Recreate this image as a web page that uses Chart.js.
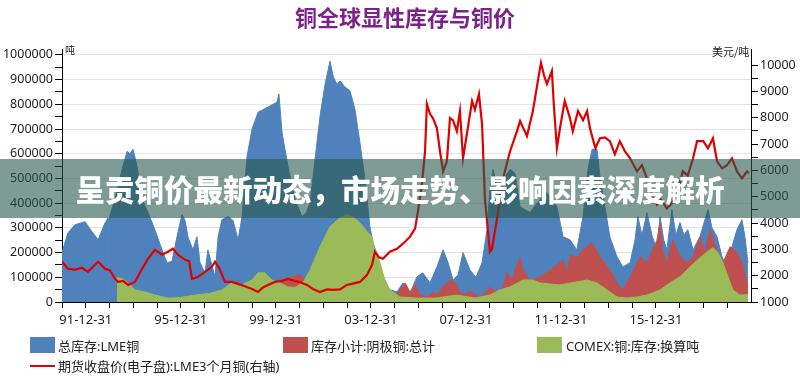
<!DOCTYPE html>
<html lang="zh-CN">
<head>
<meta charset="utf-8">
<title>铜全球显性库存与铜价</title>
<script src="https://cdn.jsdelivr.net/npm/chart.js@4.4.1/dist/chart.umd.min.js"></script>
<style>
    html, body { margin: 0; padding: 0; background: #fff; }
    #wrap { position: relative; width: 800px; height: 377px; overflow: hidden;
            font-family: 'Noto Sans', 'Noto Sans CJK SC', sans-serif; color: #222; }
    #myChart { position: absolute; left: 0; top: 0; }
    .titulo { position: absolute; left: 0; top: 0; width: 810px; line-height: 28px; text-align: center;
              font: bold 22px 'Noto Sans CJK SC', sans-serif; color: #7b2188; }
    .unidad { position: absolute; font-size: 10px; line-height: 12px; font-family: 'Noto Sans CJK SC', sans-serif; }
    .leyenda { position: absolute; font-size: 13px; line-height: 16px; white-space: nowrap; }
    .caja { position: absolute; width: 25px; height: 16px; }
    .banda { position: absolute; left: 0; top: 159px; width: 800px; height: 59px;
             background: rgba(40, 90, 75, 0.6); color: #fff; text-align: center;
             font: 900 29.5px 'Noto Sans CJK SC', sans-serif; line-height: 59px; }
</style>
</head>
<body>
<div id="wrap">
    <canvas id="myChart" width="800" height="377"></canvas>
    <div class="titulo">铜全球显性库存与铜价</div>
    <div class="unidad" style="left:65px; top:44px;">吨</div>
    <div class="unidad" style="left:712px; top:45px; font-size:11px;">美元/吨</div>

    <!-- leyenda -->
    <div class="caja" style="left:30px; top:337px; background:#4F81BD;"></div>
    <div class="leyenda" style="left:58px; top:338px;">总库存:LME铜</div>
    <div class="caja" style="left:283px; top:337px; background:#C0504D;"></div>
    <div class="leyenda" style="left:311px; top:338px;">库存小计:阴极铜:总计</div>
    <div class="caja" style="left:537px; top:337px; background:#9BBB59;"></div>
    <div class="leyenda" style="left:566px; top:338px;">COMEX:铜:库存:换算吨</div>
    <div style="position:absolute; left:30px; top:365px; width:25px; height:2px; background:#E00000;"></div>
    <div class="leyenda" style="left:58px; top:358px;">期货收盘价(电子盘):LME3个月铜(右轴)</div>

    <div class="banda">呈贡铜价最新动态，市场走势、影响因素深度解析</div>
</div>
<script>
// datos (x en años decimales)
const lmeYears = [
    1991.00, 1991.25, 1991.55, 1991.97, 1992.26, 1992.52, 1992.81, 1992.94, 1992.945, 1992.995,
    1993.00, 1993.23, 1993.53, 1993.74, 1993.86, 1993.99, 1994.16, 1994.37, 1994.62, 1994.91,
    1995.21, 1995.42, 1995.63, 1995.84, 1996.05, 1996.18, 1996.30, 1996.51, 1996.68, 1996.81,
    1997.02, 1997.14, 1997.31, 1997.44, 1997.57, 1997.73, 1997.99, 1998.20, 1998.41, 1998.58,
    1998.79, 1999.00, 1999.25, 1999.67, 2000.05, 2000.13, 2000.26, 2000.51, 2000.81, 2001.10,
    2001.27, 2001.44, 2001.65, 2001.86, 2002.07, 2002.28, 2002.41, 2002.57, 2002.70, 2002.91,
    2003.12, 2003.33, 2003.54, 2003.75, 2003.96, 2004.09, 2004.30, 2004.51, 2004.80, 2005.10,
    2005.35, 2005.65, 2005.94, 2006.19, 2006.49, 2006.78, 2007.04, 2007.25, 2007.46, 2007.67,
    2007.88, 2008.17, 2008.42, 2008.68, 2008.89, 2009.01, 2009.14, 2009.35, 2009.56, 2009.86,
    2010.07, 2010.28, 2010.70, 2010.99, 2011.41, 2011.83, 2012.09, 2012.38, 2012.67, 2012.93,
    2013.14, 2013.31, 2013.52, 2013.64, 2013.85, 2014.06, 2014.36, 2014.61, 2014.91, 2015.12,
    2015.24, 2015.41, 2015.62, 2015.83, 2016.04, 2016.17, 2016.33, 2016.46, 2016.67, 2016.84,
    2017.01, 2017.18, 2017.34, 2017.56, 2017.85, 2018.06, 2018.19, 2018.36, 2018.57, 2018.78,
    2018.99, 2019.20, 2019.41, 2019.62, 2019.75, 2019.87
];
const lmeStock = [
    200000, 280000, 313000, 325000, 285000, 252000, 320000, 340000, 0, 0,
    345000, 415000, 537000, 610000, 600000, 618000, 550000, 415000, 362000, 293000,
    211000, 159000, 165000, 264000, 354000, 330000, 264000, 211000, 264000, 159000,
    118000, 211000, 150000, 102000, 264000, 333000, 346000, 330000, 252000, 346000,
    590000, 700000, 768000, 789000, 809000, 842000, 687000, 550000, 415000, 346000,
    360000, 400000, 577000, 752000, 880000, 975000, 915000, 880000, 895000, 870000,
    855000, 780000, 646000, 496000, 305000, 240000, 183000, 102000, 49000, 41000,
    77000, 37000, 102000, 118000, 77000, 142000, 211000, 159000, 89000, 110000,
    200000, 130000, 100000, 159000, 293000, 455000, 537000, 455000, 496000, 537000,
    520000, 386000, 362000, 400000, 443000, 386000, 264000, 252000, 211000, 346000,
    537000, 618000, 618000, 508000, 386000, 264000, 183000, 142000, 159000, 252000,
    346000, 270000, 362000, 270000, 211000, 346000, 250000, 211000, 374000, 270000,
    321000, 270000, 293000, 211000, 264000, 333000, 374000, 300000, 264000, 183000,
    142000, 224000, 293000, 333000, 260000, 159000
];

const shfeYears = [
    2000.17, 2000.21, 2000.60, 2001.02, 2001.23, 2001.44, 2002.28, 2003.12, 2003.96, 2004.59,
    2005.02, 2005.23, 2005.44, 2005.65, 2005.86, 2006.07, 2006.36, 2006.61, 2006.78, 2007.04,
    2007.33, 2007.54, 2007.75, 2007.96, 2008.17, 2008.38, 2008.59, 2008.84, 2009.01, 2009.31,
    2009.56, 2009.73, 2009.94, 2010.15, 2010.28, 2010.40, 2010.70, 2011.12, 2011.54, 2011.83,
    2012.09, 2012.25, 2012.38, 2012.67, 2012.93, 2013.31, 2013.64, 2014.06, 2014.36, 2014.61,
    2014.91, 2015.33, 2015.62, 2015.87, 2016.04, 2016.17, 2016.29, 2016.46, 2016.71, 2017.01,
    2017.31, 2017.56, 2017.85, 2018.06, 2018.27, 2018.48, 2018.82, 2019.12, 2019.41, 2019.62,
    2019.83, 2019.87
];
const shfeStock = [
    0, 90000, 100000, 110000, 90000, 100000, 120000, 90000, 60000, 30000,
    20000, 50000, 77000, 40000, 70000, 30000, 20000, 40000, 30000, 60000,
    89000, 80000, 40000, 30000, 45000, 30000, 20000, 40000, 60000, 40000,
    60000, 120000, 89000, 150000, 183000, 130000, 89000, 100000, 130000, 150000,
    170000, 120000, 190000, 180000, 211000, 240000, 183000, 130000, 77000, 49000,
    100000, 183000, 160000, 211000, 250000, 320000, 200000, 160000, 252000, 183000,
    160000, 180000, 264000, 200000, 293000, 230000, 159000, 224000, 200000, 160000,
    77000, 70000
];

const comexYears = [
    1993.31, 1993.53, 1993.78, 1994.07, 1994.49, 1994.91, 1995.46, 1995.97, 1996.60, 1997.23,
    1997.73, 1998.15, 1998.58, 1999.00, 1999.25, 1999.54, 1999.84, 2000.17, 2000.51, 2000.81,
    2001.14, 2001.44, 2001.86, 2002.28, 2002.70, 2002.99, 2003.24, 2003.54, 2003.84, 2004.05,
    2004.17, 2004.38, 2004.59, 2004.80, 2005.23, 2005.94, 2006.70, 2007.04, 2007.62, 2008.38,
    2009.01, 2009.43, 2009.86, 2010.40, 2010.82, 2011.12, 2011.96, 2012.59, 2013.10, 2013.52,
    2013.94, 2014.36, 2014.78, 2015.20, 2015.62, 2016.17, 2016.59, 2017.01, 2017.43, 2017.85,
    2018.15, 2018.40, 2018.61, 2018.82, 2019.03, 2019.24, 2019.53, 2019.87
];
const comexStock = [
    98000, 95000, 77000, 49000, 41000, 28000, 16000, 18000, 28000, 35000,
    49000, 77000, 70000, 89000, 118000, 118000, 89000, 77000, 61000, 60000,
    77000, 130000, 224000, 305000, 341000, 354000, 345000, 321000, 285000, 264000,
    211000, 159000, 89000, 49000, 20000, 16000, 16000, 20000, 28000, 16000,
    28000, 49000, 61000, 89000, 89000, 77000, 69000, 80000, 89000, 77000,
    49000, 20000, 16000, 20000, 28000, 49000, 77000, 102000, 142000, 179000,
    203000, 220000, 200000, 159000, 102000, 49000, 28000, 30000
];

const priceYears = [
    1991.00, 1991.25, 1991.55, 1991.84, 1992.09, 1992.39, 1992.52, 1992.81, 1993.02, 1993.23,
    1993.36, 1993.57, 1993.78, 1994.07, 1994.37, 1994.62, 1994.91, 1995.21, 1995.46, 1995.67,
    1995.88, 1996.18, 1996.35, 1996.47, 1996.72, 1997.02, 1997.31, 1997.44, 1997.61, 1997.86,
    1998.15, 1998.41, 1998.70, 1999.00, 1999.25, 1999.46, 1999.67, 1999.96, 2000.26, 2000.51,
    2000.81, 2001.02, 2001.31, 2001.56, 2001.86, 2002.15, 2002.41, 2002.70, 2002.99, 2003.24,
    2003.54, 2003.84, 2004.05, 2004.17, 2004.34, 2004.51, 2004.80, 2005.10, 2005.35, 2005.65,
    2005.86, 2005.98, 2006.15, 2006.28, 2006.36, 2006.49, 2006.61, 2006.78, 2006.91, 2007.04,
    2007.20, 2007.33, 2007.46, 2007.62, 2007.75, 2007.88, 2008.01, 2008.26, 2008.38, 2008.55,
    2008.68, 2008.80, 2009.01, 2009.10, 2009.31, 2009.56, 2009.86, 2010.15, 2010.28, 2010.57,
    2010.82, 2011.03, 2011.16, 2011.29, 2011.41, 2011.62, 2011.70, 2011.83, 2011.96, 2012.16,
    2012.38, 2012.50, 2012.72, 2012.93, 2013.10, 2013.22, 2013.45, 2013.64, 2013.85, 2014.06,
    2014.27, 2014.48, 2014.69, 2014.91, 2015.20, 2015.41, 2015.62, 2015.83, 2016.04, 2016.20,
    2016.46, 2016.67, 2016.92, 2017.13, 2017.34, 2017.56, 2017.73, 2017.99, 2018.19, 2018.40,
    2018.57, 2018.78, 2018.99, 2019.20, 2019.41, 2019.62, 2019.83, 2019.91
];
const priceUsd = [
    2527, 2260, 2230, 2300, 2145, 2412, 2527, 2260, 2200, 1878,
    1763, 1800, 1649, 1760, 2260, 2641, 2985, 2794, 2908, 3023,
    2800, 2603, 2550, 1878, 1950, 2145, 2336, 2527, 2300, 1763,
    1763, 1687, 1600, 1496, 1382, 1550, 1649, 1763, 1800, 1878,
    1800, 1750, 1649, 1496, 1382, 1480, 1458, 1480, 1649, 1700,
    1763, 2030, 2412, 2908, 2700, 2641, 2908, 3023, 3214, 3481,
    3786, 4435, 5466, 6725, 8519, 8137, 7985, 7603, 6725, 5962,
    6344, 7985, 7900, 7489, 8252, 6458, 7200, 8634, 8300, 8901,
    7756, 4931, 2908, 3023, 4168, 5695, 6725, 7489, 7870, 7300,
    8252, 9397, 10084, 9600, 9282, 9779, 8500, 6840, 7600, 8634,
    7985, 7489, 8252, 7900, 8252, 7603, 6840, 7221, 7250, 7107,
    6611, 7107, 6725, 6458, 5962, 6200, 5695, 5084, 4702, 4900,
    4549, 4750, 5198, 5962, 5800, 6458, 7107, 7107, 6840, 7221,
    6344, 6076, 6200, 6458, 5962, 5695, 5962, 5900
];

// ejes
const xLabelYears = [1992, 1996, 2000, 2004, 2008, 2012, 2016];
const xLabels = ['91-12-31', '95-12-31', '99-12-31', '03-12-31', '07-12-31', '11-12-31', '15-12-31'];
const leftTicks = [0, 100000, 200000, 300000, 400000, 500000, 600000, 700000, 800000, 900000, 1000000];
const rightTicks = [1000, 2000, 3000, 4000, 5000, 6000, 7000, 8000, 9000, 10000];

function puntos(xs, ys) {
    return xs.map((t, i) => ({ x: t, y: ys[i] }));
}
// marcas menores a mitad de camino
function conMenores(lista) {
    const out = [];
    lista.forEach((v, i) => {
        out.push({ value: v });
        if (i < lista.length - 1) out.push({ value: (v + lista[i + 1]) / 2 });
    });
    return out;
}

const tickFont = { family: "'Noto Sans', 'Noto Sans CJK SC', sans-serif", size: 12.5 };

const ctx = document.getElementById('myChart').getContext('2d');
const myChart = new Chart(ctx, {
    type: 'line',
    data: {
        datasets: [
            {
                label: '期货收盘价(电子盘):LME3个月铜(右轴)',
                data: puntos(priceYears, priceUsd),
                yAxisID: 'y1',
                borderColor: '#E00000',
                borderWidth: 2.2,
                fill: false,
                order: 0
            },
            {
                label: 'COMEX:铜:库存:换算吨',
                data: puntos(comexYears, comexStock),
                yAxisID: 'y',
                borderColor: '#9BBB59',
                backgroundColor: '#9BBB59',
                borderWidth: 1,
                fill: 'origin',
                order: 1
            },
            {
                label: '库存小计:阴极铜:总计',
                data: puntos(shfeYears, shfeStock),
                yAxisID: 'y',
                borderColor: '#C0504D',
                backgroundColor: '#C0504D',
                borderWidth: 1,
                fill: 'origin',
                order: 2
            },
            {
                label: '总库存:LME铜',
                data: puntos(lmeYears, lmeStock),
                yAxisID: 'y',
                borderColor: '#4F81BD',
                backgroundColor: '#4F81BD',
                borderWidth: 1,
                fill: 'origin',
                order: 3
            }
        ]
    },
    options: {
        responsive: false,
        animation: false,
        devicePixelRatio: 1,
        layout: { padding: { top: 49, left: 0, right: 0, bottom: 0 } },
        elements: { point: { radius: 0 }, line: { tension: 0 } },
        plugins: {
            legend: { display: false },
            tooltip: { enabled: false }
        },
        scales: {
            x: {
                type: 'linear',
                min: 1991,
                max: 2020,
                afterBuildTicks: (s) => {
                    const t = [];
                    for (let y = 1991; y <= 2019; y++) t.push({ value: y });
                    s.ticks = t;
                },
                afterFit: (s) => { s.height = 75; },
                ticks: {
                    autoSkip: false,
                    maxRotation: 0,
                    padding: 4,
                    color: '#222',
                    font: { family: tickFont.family, size: 13 },
                    callback: (v) => {
                        const i = xLabelYears.indexOf(v);
                        return i >= 0 ? xLabels[i] : '';
                    }
                },
                grid: { drawOnChartArea: false, tickLength: 6, tickColor: '#000' },
                border: { color: '#000', width: 1 }
            },
            y: {
                position: 'left',
                min: 0,
                max: 1024000,
                afterBuildTicks: (s) => { s.ticks = conMenores(leftTicks); },
                afterFit: (s) => { s.width = 62; },
                ticks: {
                    autoSkip: false,
                    padding: 2,
                    color: '#222',
                    font: tickFont,
                    callback: (v) => (leftTicks.includes(v) ? String(v) : '')
                },
                grid: {
                    tickLength: 7,
                    tickColor: '#000',
                    color: (c) => (c.tick && c.tick.value > 0 && leftTicks.includes(c.tick.value)) ? '#e2e2e2' : 'rgba(0,0,0,0)'
                },
                border: { color: '#000', width: 1 }
            },
            y1: {
                position: 'right',
                min: 1000,
                max: 10609,
                afterBuildTicks: (s) => { s.ticks = conMenores(rightTicks); },
                afterFit: (s) => { s.width = 49; },
                ticks: {
                    autoSkip: false,
                    padding: 2,
                    color: '#222',
                    font: tickFont,
                    callback: (v) => (rightTicks.includes(v) ? String(v) : '')
                },
                grid: { drawOnChartArea: false, tickLength: 7, tickColor: '#000' },
                border: { color: '#000', width: 1 }
            }
        }
    }
});
</script>
</body>
</html>
